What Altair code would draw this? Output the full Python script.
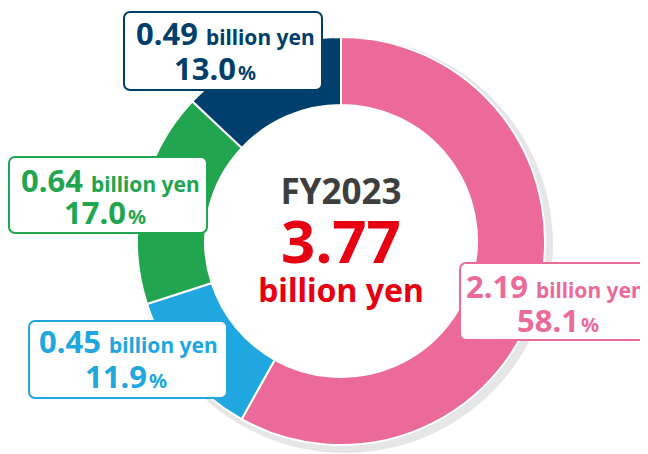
import altair as alt
import pandas as pd

# ---- data ----
amounts = [2.19, 0.45, 0.64, 0.49]          # billion yen
shares = [58.1, 11.9, 17.0, 13.0]           # percent
colors = ["#EC6A9A", "#20A7E0", "#21A64F", "#003F6C"]
fiscal_year = "FY2023"
total = 3.77
unit = "billion yen"

# ---- layout (page pixel coordinates) ----
box_x = [460, 29, 9, 124]
box_x2 = [662, 227, 207, 322]
box_y = [263, 321, 157, 12]
box_y2 = [340, 398, 233, 90]
num1_right = [528, 101, 83, 198]
base1 = [298, 353, 192, 45]
num2_right = [579, 147, 126, 236]
base2 = [332, 388, 224, 80]

FONT = "Noto Sans"
W, H = 632, 446
OX, OY = 8, 8   # page offset of the chart

df = pd.DataFrame({
    "idx": list(range(len(shares))),
    "share": shares,
    "color": colors,
    "amt": [f"{a:.2f}" for a in amounts],
    "pct": [f"{s:.1f}" for s in shares],
    "bx": box_x, "bx2": box_x2, "by": box_y, "by2": box_y2,
    "n1": num1_right, "b1": base1, "n2": num2_right, "b2": base2,
    "unit": unit, "pc": "%",
})

center = pd.DataFrame({
    "t": [fiscal_year, f"{total:.2f}", unit],
    "x": [341, 341, 341],
    "y": [204, 263, 302],
    "c": ["#3E3E3E", "#E60012", "#E60012"],
    "s": [35, 60, 32],
})

xs = alt.Scale(domain=[OX, OX + W], nice=False, zero=False)
ys = alt.Scale(domain=[OY + H, OY], nice=False, zero=False)

base = alt.Chart(df)

shadow = alt.Chart(pd.DataFrame({"k": [0]})).mark_arc(
    innerRadius=180, outerRadius=208, theta=0, theta2=6.2832, color="#E6E6E6"
).encode(x=alt.value(345 - OX), y=alt.value(245 - OY))

donut = base.mark_arc(innerRadius=136, outerRadius=204, stroke="white", strokeWidth=2).encode(
    theta=alt.Theta("share:Q", stack=True),
    color=alt.Color("color:N", scale=None),
    order=alt.Order("idx:Q"),
    x=alt.value(341 - OX),
    y=alt.value(241 - OY),
)

boxes = base.mark_rect(fill="white", strokeWidth=2, cornerRadius=6).encode(
    x=alt.X("bx:Q", scale=xs, axis=None),
    x2="bx2:Q",
    y=alt.Y("by:Q", scale=ys, axis=None),
    y2="by2:Q",
    stroke=alt.Stroke("color:N", scale=None),
)

num1 = base.mark_text(align="right", baseline="alphabetic", font=FONT, fontWeight="bold", fontSize=31).encode(
    x=alt.X("n1:Q", scale=xs, axis=None), y=alt.Y("b1:Q", scale=ys, axis=None),
    text="amt:N", color=alt.Color("color:N", scale=None))
unit1 = base.mark_text(align="left", baseline="alphabetic", font=FONT, fontWeight="bold", fontSize=21, dx=8).encode(
    x=alt.X("n1:Q", scale=xs, axis=None), y=alt.Y("b1:Q", scale=ys, axis=None),
    text="unit:N", color=alt.Color("color:N", scale=None))
num2 = base.mark_text(align="right", baseline="alphabetic", font=FONT, fontWeight="bold", fontSize=31).encode(
    x=alt.X("n2:Q", scale=xs, axis=None), y=alt.Y("b2:Q", scale=ys, axis=None),
    text="pct:N", color=alt.Color("color:N", scale=None))
pct2 = base.mark_text(align="left", baseline="alphabetic", font=FONT, fontWeight="bold", fontSize=20, dx=2).encode(
    x=alt.X("n2:Q", scale=xs, axis=None), y=alt.Y("b2:Q", scale=ys, axis=None),
    text="pc:N", color=alt.Color("color:N", scale=None))

ctext = alt.Chart(center).mark_text(align="center", baseline="alphabetic", font=FONT, fontWeight="bold").encode(
    x=alt.X("x:Q", scale=xs, axis=None), y=alt.Y("y:Q", scale=ys, axis=None),
    text="t:N", color=alt.Color("c:N", scale=None), size=alt.Size("s:Q", scale=None))

chart = alt.layer(shadow, donut, boxes, num1, unit1, num2, pct2, ctext).properties(
    width=W, height=H, padding=0, autosize=alt.AutoSizeParams(type="none")
).configure_view(stroke=None)

chart.save("out.html", embed_options={"renderer": "svg", "actions": False})
